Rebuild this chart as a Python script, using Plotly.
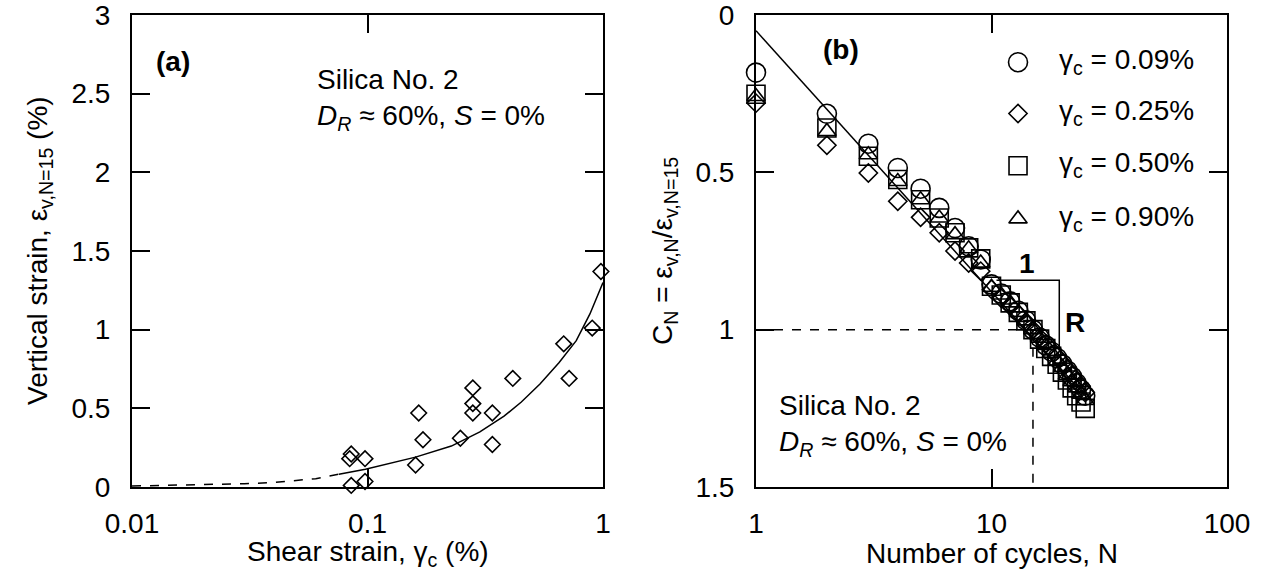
import plotly.graph_objects as go

W, H = 1265, 583

# ---------------- data: panel (a) ----------------
a_gamma = [0.084, 0.0853, 0.0976, 0.0853, 0.0976, 0.160, 0.165, 0.172, 0.248, 0.28, 0.28, 0.28,
           0.339, 0.339, 0.414, 0.681, 0.718, 0.90, 0.98]
a_eps = [0.18, 0.21, 0.18, 0.01, 0.035, 0.14, 0.47, 0.30, 0.31, 0.63, 0.53, 0.47,
         0.47, 0.27, 0.69, 0.91, 0.69, 1.01, 1.37]
a_fit_dash_x = [0.01, 0.0197, 0.030, 0.0396, 0.0603, 0.0756]
a_fit_dash_y = [0.006, 0.013, 0.021, 0.028, 0.053, 0.081]
a_fit_x = [0.0756, 0.098, 0.16, 0.227, 0.30, 0.38, 0.45, 0.54, 0.65, 0.77, 0.88, 1.0]
a_fit_y = [0.081, 0.113, 0.19, 0.26, 0.35, 0.45, 0.54, 0.655, 0.79, 0.93, 1.1, 1.3]

# ---------------- data: panel (b) ----------------
N = list(range(1, 26))
cn_009 = [0.183, 0.314, 0.409, 0.486, 0.552, 0.613, 0.677, 0.735, 0.777, 0.856,
          0.885, 0.91, 0.94, 0.97, 1.0, 1.025, 1.05, 1.07, 1.09, 1.11,
          1.13, 1.15, 1.17, 1.19, 1.21]
cn_025 = [0.28, 0.414, 0.502, 0.592, 0.643, 0.692, 0.75, 0.788, 0.814, 0.872,
          0.9, 0.925, 0.95, 0.975, 1.0, 1.025, 1.045, 1.065, 1.085, 1.105,
          1.125, 1.145, 1.165, 1.18, 1.2]
cn_050 = [0.252, 0.359, 0.449, 0.523, 0.587, 0.645, 0.692, 0.74, 0.775, 0.862,
          0.89, 0.915, 0.945, 0.972, 1.0, 1.03, 1.06, 1.085, 1.11, 1.135,
          1.16, 1.185, 1.21, 1.23, 1.25]
cn_090 = [0.259, 0.37, 0.444, 0.529, 0.587, 0.645, 0.698, 0.743, 0.788, 0.865,
          0.89, 0.915, 0.945, 0.972, 1.0, 1.027, 1.05, 1.075, 1.1, 1.12,
          1.145, 1.165, 1.185, 1.205, 1.225]
b_line_N = [1, 25]
b_line_C = [0.05, 1.21]
b_hdash_N = [1, 15]
b_hdash_C = [1.0, 1.0]
b_vdash_N = [15, 15]
b_vdash_C = [1.0, 1.5]
b_tri_N = [10.5, 19.4, 19.4]
b_tri_C = [0.843, 0.843, 1.07]

legend_labels = ["γ<sub>c</sub> = 0.09%", "γ<sub>c</sub> = 0.25%", "γ<sub>c</sub> = 0.50%", "γ<sub>c</sub> = 0.90%"]
legend_symbols = ["circle-open", "diamond-open", "square-open", "triangle-up-open"]
legend_sizes = [19, 14, 18, 16]
legend_N = 12.96
legend_C = [0.15, 0.313, 0.479, 0.648]

# tick positions
a_xmajor = [0.01, 0.1, 1]
a_xminor = [0.02, 0.03, 0.04, 0.05, 0.06, 0.07, 0.08, 0.09, 0.2, 0.3, 0.4, 0.5, 0.6, 0.7, 0.8, 0.9]
b_xmajor = [1, 10, 100]
b_xminor = [2, 3, 4, 5, 6, 7, 8, 9, 20, 30, 40, 50, 60, 70, 80, 90]
a_ymajor = [0, 0.5, 1, 1.5, 2, 2.5, 3]
b_ymajor = [0, 0.5, 1, 1.5]
a_yminor = [round(0.1 * i, 1) for i in range(31)]
b_yminor = [round(0.1 * i, 1) for i in range(16)]

FONT = "Liberation Sans, Arial, sans-serif"
BLACK = "black"
FS = 28

fig = go.Figure()

fig.add_trace(go.Scatter(x=a_fit_dash_x, y=a_fit_dash_y, mode="lines",
                         line=dict(color=BLACK, width=1.5, dash="dash"), xaxis="x", yaxis="y"))
fig.add_trace(go.Scatter(x=a_fit_x, y=a_fit_y, mode="lines",
                         line=dict(color=BLACK, width=1.5), xaxis="x", yaxis="y"))
fig.add_trace(go.Scatter(x=a_gamma, y=a_eps, mode="markers",
                         marker=dict(symbol="diamond-open", size=12, color=BLACK, line=dict(width=1.6)),
                         xaxis="x", yaxis="y", cliponaxis=False))

fig.add_trace(go.Scatter(x=b_hdash_N, y=b_hdash_C, mode="lines",
                         line=dict(color=BLACK, width=1.5, dash="dash"), xaxis="x2", yaxis="y2"))
fig.add_trace(go.Scatter(x=b_vdash_N, y=b_vdash_C, mode="lines",
                         line=dict(color=BLACK, width=1.5, dash="dash"), xaxis="x2", yaxis="y2"))
fig.add_trace(go.Scatter(x=b_line_N, y=b_line_C, mode="lines",
                         line=dict(color=BLACK, width=1.5), xaxis="x2", yaxis="y2"))
fig.add_trace(go.Scatter(x=b_tri_N, y=b_tri_C, mode="lines",
                         line=dict(color=BLACK, width=1.5), xaxis="x2", yaxis="y2"))

series = [cn_009, cn_025, cn_050, cn_090]
for vals, sym, sz in zip(series, legend_symbols, legend_sizes):
    fig.add_trace(go.Scatter(x=N[:len(vals)], y=vals, mode="markers",
                             marker=dict(symbol=sym, size=sz, color=BLACK, line=dict(width=1.6)),
                             xaxis="x2", yaxis="y2", cliponaxis=False))
for c, sym, sz in zip(legend_C, legend_symbols, legend_sizes):
    fig.add_trace(go.Scatter(x=[legend_N], y=[c], mode="markers",
                             marker=dict(symbol=sym, size=sz, color=BLACK, line=dict(width=1.6)),
                             xaxis="x2", yaxis="y2", cliponaxis=False))

ax_l, ax_r = 132, 603
bx_l, bx_r = 756, 1227
top, bot = 15, 487

def px(x):
    return x / W

def py(y):
    return 1 - y / H

tickfont = dict(family=FONT, size=FS, color=BLACK)

def major_axis(domain, rng, anchor, tickvals, ticktext, typ, standoff):
    d = dict(domain=domain, range=rng, anchor=anchor, automargin=False,
             showline=True, linecolor=BLACK, linewidth=2, mirror="ticks",
             ticks="inside", ticklen=18, tickwidth=1.5, tickcolor=BLACK,
             tickmode="array", tickvals=tickvals, ticktext=ticktext, tickfont=tickfont,
             ticklabeloverflow="allow",
             showgrid=False, zeroline=False, ticklabelstandoff=standoff)
    if typ:
        d["type"] = typ
    return d

def minor_axis(overlay, rng, tickvals, typ, anchor, side):
    d = dict(overlaying=overlay, range=rng, anchor=anchor, side=side, automargin=False,
             showline=False, mirror="ticks",
             ticks="inside", ticklen=10, tickwidth=1.5, tickcolor=BLACK,
             tickmode="array", tickvals=tickvals, showticklabels=False,
             showgrid=False, zeroline=False)
    if typ:
        d["type"] = typ
    return d

fig.update_layout(
    width=W, height=H,
    margin=dict(l=0, r=0, t=0, b=0),
    paper_bgcolor="white", plot_bgcolor="white",
    font=dict(family=FONT, color=BLACK),
    showlegend=False,
    xaxis=major_axis([px(ax_l), px(ax_r)], [-2, 0], "y", a_xmajor, ["0.01", "0.1", "1"], "log", 10),
    yaxis=major_axis([py(bot), py(top)], [0, 3], "x", a_ymajor, ["0", "0.5", "1", "1.5", "2", "2.5", "3"], None, 14),
    xaxis2=major_axis([px(bx_l), px(bx_r)], [0, 2], "y2", b_xmajor, ["1", "10", "100"], "log", 10),
    yaxis2=major_axis([py(bot), py(top)], [1.5, 0], "x2", b_ymajor, ["0", "0.5", "1", "1.5"], None, 14),
    xaxis3=minor_axis("x", [-2, 0], a_xminor, "log", "y", "bottom"),
    xaxis4=minor_axis("x", [-2, 0], a_xminor, "log", "y", "top"),
    yaxis3=minor_axis("y", [0, 3], a_yminor, None, "x", "left"),
    yaxis4=minor_axis("y", [0, 3], a_yminor, None, "x", "right"),
    xaxis5=minor_axis("x2", [0, 2], b_xminor, "log", "y2", "bottom"),
    xaxis6=minor_axis("x2", [0, 2], b_xminor, "log", "y2", "top"),
    yaxis5=minor_axis("y2", [1.5, 0], b_yminor, None, "x2", "left"),
    yaxis6=minor_axis("y2", [1.5, 0], b_yminor, None, "x2", "right"),
)

ann = []
def text(x, y, s, size=FS, bold=False, xanchor="left", angle=0):
    ann.append(dict(x=px(x), y=py(y), xref="paper", yref="paper", text=("<b>%s</b>" % s) if bold else s,
                    showarrow=False, xanchor=xanchor, yanchor="middle", textangle=angle,
                    font=dict(family=FONT, size=size, color=BLACK)))

# axis titles
text((ax_l + ax_r) / 2, 553, "Shear strain, γ<sub>c</sub> (%)", xanchor="center")
text((bx_l + bx_r) / 2, 553, "Number of cycles, N", xanchor="center")
text(39, (top + bot) / 2, "Vertical strain, ε<sub>v,N=15</sub> (%)", xanchor="center", angle=-90)
text(664, (top + bot) / 2, "C<sub>N</sub> = ε<sub>v,N</sub>/ε<sub>v,N=15</sub>", xanchor="center", angle=-90)

text(173, 62, "(a)", bold=True, xanchor="center")
text(315, 80, "Silica No. 2")
text(315, 118, "<i>D<sub>R</sub></i> ≈ 60%, <i>S</i> = 0%")

text(841, 50, "(b)", bold=True, xanchor="center")
text(777, 405, "Silica No. 2")
text(777, 443, "<i>D<sub>R</sub></i> ≈ 60%, <i>S</i> = 0%")
text(1027, 263, "1", bold=True, xanchor="center")
text(1075, 322, "R", bold=True, xanchor="center")

leg_rows = [62, 113, 165, 218]
for i, lab in enumerate(legend_labels):
    text(1057, leg_rows[i], lab)
fig.update_layout(annotations=ann)

fig.write_html("out.html")
